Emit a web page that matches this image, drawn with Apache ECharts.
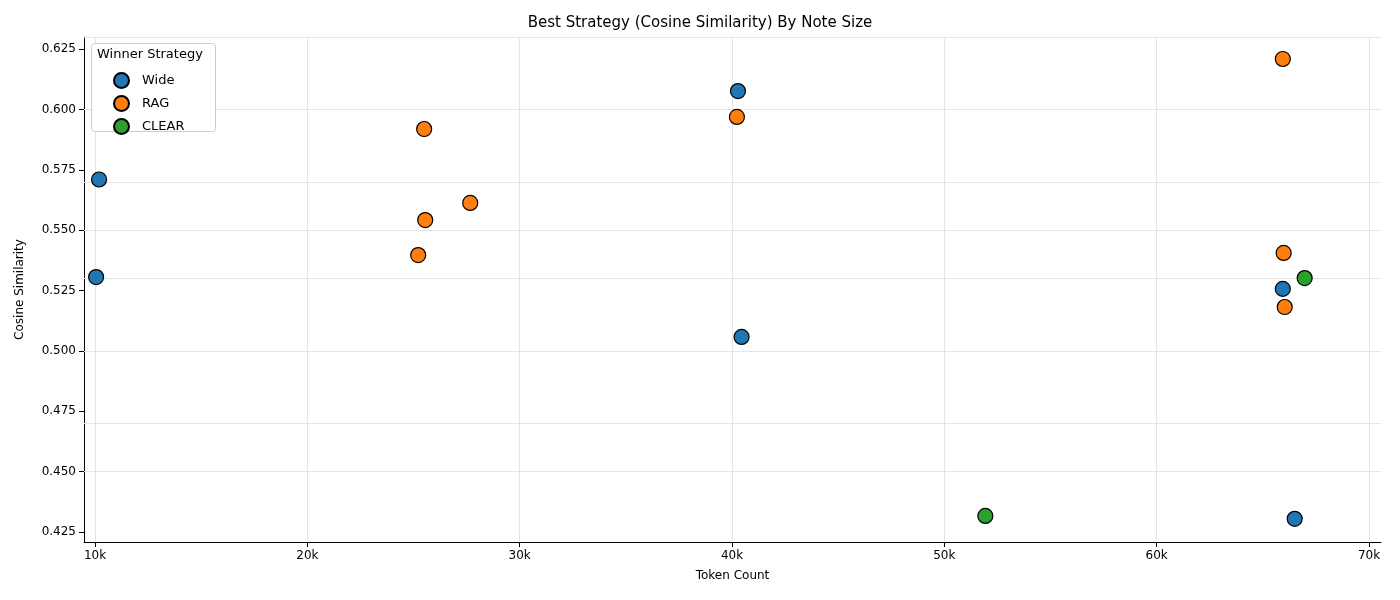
<!DOCTYPE html>
<html>
<head>
<meta charset="utf-8">
<script src="https://cdn.jsdelivr.net/npm/echarts@6/dist/echarts.min.js"></script>
<style>html,body{margin:0;padding:0;background:#fff}#chart{width:1400px;height:600px}</style>
</head>
<body>
<div id="chart"></div>
<script>
// [tokens, cosine similarity]
const wide = [[10190, 0.571], [10050, 0.5306], [40280, 0.6076], [40450, 0.5058], [65940, 0.5257], [66500, 0.4305]];
const rag = [[25500, 0.5919], [25550, 0.5542], [27670, 0.5613], [25220, 0.5397], [40230, 0.5969], [65940, 0.6209], [65980, 0.5406], [66030, 0.5182]];
const clear = [[51930, 0.4317], [66970, 0.5302]];
const seriesNames = ['Wide', 'RAG', 'CLEAR'];
const colors = ['#1f77b4', '#ff7f0e', '#2ca02c'];
const xTicks = [10000, 20000, 30000, 40000, 50000, 60000, 70000];
const yTicks = [0.425, 0.45, 0.475, 0.5, 0.525, 0.55, 0.575, 0.6, 0.625];

const chart = echarts.init(document.getElementById('chart'));
const font = 'DejaVu Sans';

const mkSeries = (name, data, i) => ({
    name: name,
    type: 'scatter',
    data: data,
    symbolSize: 15,
    z: 5,
    itemStyle: { color: colors[i], borderColor: '#000', borderWidth: 1.2, opacity: 1 },
});

chart.setOption({
    textStyle: { fontFamily: font },
    title: {
        text: 'Best Strategy (Cosine Similarity) By Note Size',
        left: 'center', top: 11,
        textStyle: { fontFamily: font, fontSize: 15, fontWeight: 'normal', color: '#000' },
    },
    grid: { left: 84, right: 19, top: 37, bottom: 58 },
    xAxis: {
        type: 'value', min: 9480, max: 70565,
        name: 'Token Count', nameLocation: 'middle', nameGap: 28,
        nameTextStyle: { fontSize: 12, color: '#000' },
        axisLine: { show: true, lineStyle: { color: '#000' } },
        axisTick: { show: true, customValues: xTicks, lineStyle: { color: '#000' } },
        axisLabel: { color: '#000', fontSize: 12, customValues: xTicks, formatter: v => (v / 1000) + 'k' },
        splitLine: { show: false },
    },
    yAxis: {
        type: 'value', min: 0.4209, max: 0.630,
        name: 'Cosine Similarity', nameLocation: 'middle', nameGap: 58,
        nameTextStyle: { fontSize: 12, color: '#000' },
        axisLine: { show: true, lineStyle: { color: '#000' } },
        axisTick: { show: true, customValues: yTicks, lineStyle: { color: '#000' } },
        axisLabel: { color: '#000', fontSize: 12, customValues: yTicks, formatter: v => v.toFixed(3) },
        splitLine: { show: false },
    },
    graphic: [
        { type: 'rect', left: 91, top: 43, shape: { width: 124, height: 88, r: 3 }, style: { fill: '#fff', stroke: '#ccc' }, z: 10 },
        { type: 'text', left: 97, top: 48, style: { text: 'Winner Strategy', font: '13px DejaVu Sans', fill: '#000' }, z: 11 },
    ],
    legend: {
        data: seriesNames, orient: 'vertical', left: 108, top: 67,
        itemGap: 6, itemWidth: 15, itemHeight: 15, z: 12,
        textStyle: { fontSize: 13, color: '#000', padding: [0, 0, 0, 8] },
    },
    series: [
        {
            type: 'scatter', data: [], silent: true, z: 0,
            markLine: {
                silent: true, symbol: 'none', label: { show: false },
                lineStyle: { color: '#e5e5e5', type: 'solid', width: 1 },
                data: yTicks.map(v => ({ yAxis: v })).concat(xTicks.map(v => ({ xAxis: v }))),
            },
        },
        mkSeries(seriesNames[0], wide, 0),
        mkSeries(seriesNames[1], rag, 1),
        mkSeries(seriesNames[2], clear, 2),
    ],
});
</script>
</body>
</html>
